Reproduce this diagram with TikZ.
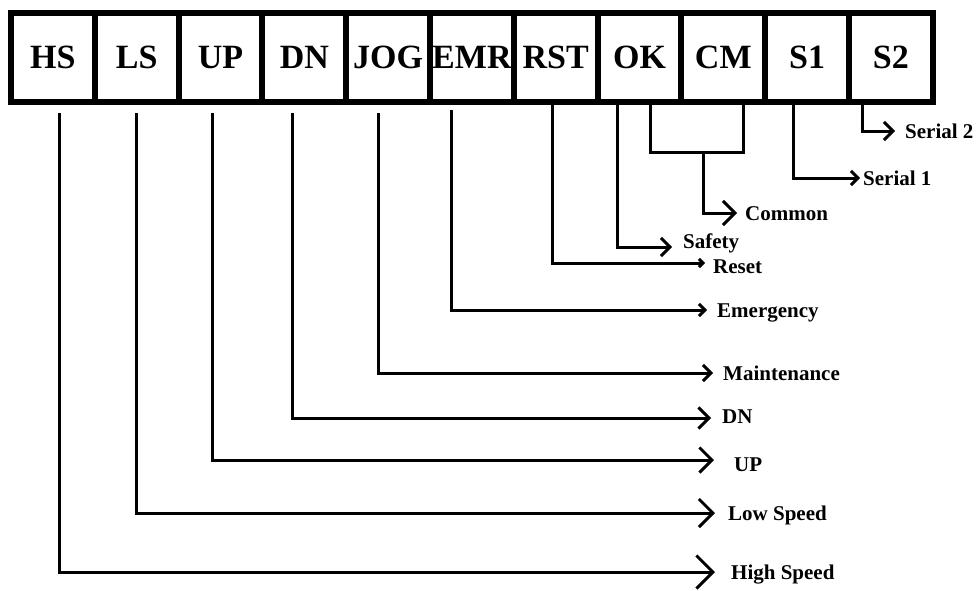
\documentclass[tikz,border=0pt]{standalone}
\usepackage{fontspec}
\setmainfont{Liberation Serif}
\usetikzlibrary{arrows.meta, positioning, calc}
\newcommand{\cellfont}{\fontsize{34}{34}\selectfont\bfseries}
\newcommand{\tagfont}{\fontsize{21}{21}\selectfont\bfseries}
\tikzset{
  cell/.style={draw, line width=6pt, minimum width=83.8pt, minimum height=89pt,
    inner sep=0pt, outer sep=0pt, font=\cellfont},
  tag/.style={anchor=west, inner sep=0pt, text height=14pt, text depth=0pt, font=\tagfont},
  wire/.style={line width=3pt, shorten >=9pt, -{Straight Barb[length=5pt, width=10pt, scale=#1]}},
  bar/.style={line width=3pt}
}
\begin{document}
\begin{tikzpicture}[x=1pt, y=-1pt]
\useasboundingbox (0,0) rectangle (979,590);
% terminal strip
\node[cell] (hs)   at (52.9,57.5)  {HS};
\node[cell] (ls)   at (136.7,57.5) {LS};
\node[cell] (up)   at (220.5,57.5) {UP};
\node[cell] (dn)   at (304.3,57.5) {DN};
\node[cell] (jog)  at (388.1,57.5) {JOG};
\node[cell] (emr)  at (471.9,57.5) {EMR};
\node[cell] (rst)  at (555.7,57.5) {RST};
\node[cell] (ok)   at (639.5,57.5) {OK};
\node[cell] (cm)   at (723.3,57.5) {CM};
\node[cell] (sone) at (807.1,57.5) {S1};
\node[cell] (stwo) at (890.9,57.5) {S2};
% signal names
\node[tag] (highspeed) at (731,572) {High Speed};
\node[tag] (lowspeed)  at (728,513) {Low Speed};
\node[tag] (uptag)     at (734,464) {UP};
\node[tag] (dntag)     at (722,416) {DN};
\node[tag] (maint)     at (723,373) {Maintenance};
\node[tag] (emerg)     at (717,310) {Emergency};
\node[tag] (reset)     at (713,266) {Reset};
\node[tag] (safety)    at (683,241) {Safety};
\node[tag] (common)    at (745,213) {Common};
\node[tag] (serialone) at (863,178) {Serial 1};
\node[tag] (serialtwo) at (905,131) {Serial 2};
% connectors
\draw[wire=3.3, shorten >=16pt] ([xshift=7pt, yshift=-11pt]hs.south) |- (highspeed.west);
\draw[wire=2.8, shorten >=13pt] ([yshift=-11pt]ls.south) |- (lowspeed.west);
\draw[wire=2.5, shorten >=20pt] ([xshift=-8.5pt, yshift=-11pt]up.south) |- ([yshift=4pt]uptag.west);
\draw[wire=2.1, shorten >=11pt] ([xshift=-12pt, yshift=-11pt]dn.south) |- ([yshift=-2pt]dntag.west);
\draw[wire=1.6, shorten >=10pt] ([xshift=-10pt, yshift=-11pt]jog.south) |- (maint.west);
\draw[wire=1.2, shorten >=10pt] ([xshift=-20pt, yshift=-8pt]emr.south) |- (emerg.west);
\draw[wire=0.8, shorten >=8pt] ([xshift=-3pt]rst.south) |- ([yshift=3pt]reset.west);
\draw[wire=1.8, shorten >=11pt] ([xshift=-22.5pt]ok.south) |- ([yshift=-6pt]safety.west);
\coordinate (cmjoin) at (703,152);
\draw[bar] ([xshift=10.5pt]ok.south) |- (cmjoin) -| ([xshift=20pt]cm.south);
\draw[wire=2.4, shorten >=8pt] (cmjoin) |- (common.west);
\draw[wire=1.4, shorten >=3pt] ([xshift=-14pt]sone.south) |- (serialone.west);
\draw[wire=1.8, shorten >=10pt] ([xshift=-28pt]stwo.south) |- (serialtwo.west);
\end{tikzpicture}
\end{document}
